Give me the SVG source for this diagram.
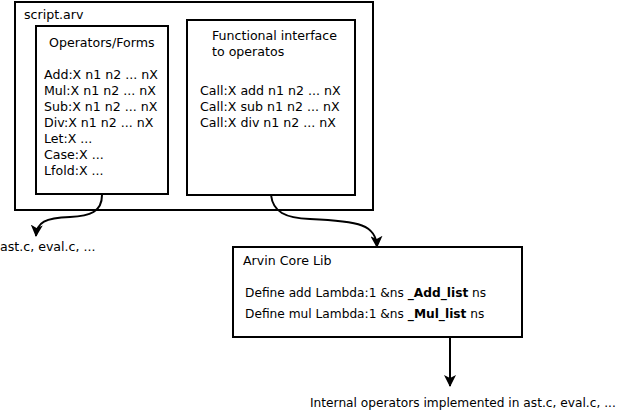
<svg xmlns="http://www.w3.org/2000/svg" width="630" height="411" viewBox="0 0 630 411">
<style>
text{font-family:"DejaVu Sans",sans-serif;font-size:12.6px;fill:#000}
.s{font-size:12.2px}
.b{fill:#fff;stroke:#000;stroke-width:2}
.c{fill:none;stroke:#000;stroke-width:2}
</style>
<defs>
<marker id="ah" markerUnits="userSpaceOnUse" viewBox="0 0 12 12" refX="11" refY="6" markerWidth="12" markerHeight="12" orient="auto">
<path d="M0,0 L12,6 L0,12 L3,6 Z" fill="#000"/>
</marker>
</defs>
<rect width="630" height="411" fill="#fff"/>
<g id="script">
<rect class="b" x="15" y="2" width="358" height="208"/>
<text x="24" y="19">script.arv</text>
</g>
<g id="operators">
<rect class="b" x="36" y="26" width="132" height="168"/>
<text x="49" y="47">Operators/Forms</text>
<text x="44" y="79">Add:X n1 n2 ... nX</text>
<text x="44" y="95">Mul:X n1 n2 ... nX</text>
<text x="44" y="111">Sub:X n1 n2 ... nX</text>
<text x="44" y="127">Div:X n1 n2 ... nX</text>
<text x="44" y="143">Let:X ...</text>
<text x="44" y="159">Case:X ...</text>
<text x="44" y="175">Lfold:X ...</text>
</g>
<g id="functional">
<rect class="b" x="187" y="20" width="168" height="175"/>
<text x="212" y="40">Functional interface</text>
<text x="212" y="56">to operatos</text>
<text x="200" y="95">Call:X add n1 n2 ... nX</text>
<text x="200" y="111">Call:X sub n1 n2 ... nX</text>
<text x="200" y="127">Call:X div n1 n2 ... nX</text>
</g>
<g id="core">
<rect class="b" x="233" y="247" width="289" height="90"/>
<text x="243" y="265">Arvin Core Lib</text>
<text class="s" x="245" y="297">Define add Lambda:1 &amp;ns <tspan font-weight="bold">_Add_list</tspan> ns</text>
<text class="s" x="245" y="318">Define mul Lambda:1 &amp;ns <tspan font-weight="bold">_Mul_list</tspan> ns</text>
</g>
<g id="labels">
<text x="0" y="251" font-size="12.8">ast.c, eval.c, ...</text>
<text class="s" x="310" y="407" font-size="12.3">Internal operators implemented in ast.c, eval.c, ...</text>
</g>
<g id="connectors">
<path class="c" d="M102,195 C102,212 90,216 70,217 C45,218 37,222 36,236" marker-end="url(#ah)"/>
<path class="c" d="M271,195 C273,212 285,218 310,219 C360,221 376,225 377,247" marker-end="url(#ah)"/>
<path class="c" d="M450,337 L450,386" marker-end="url(#ah)"/>
</g>
</svg>
